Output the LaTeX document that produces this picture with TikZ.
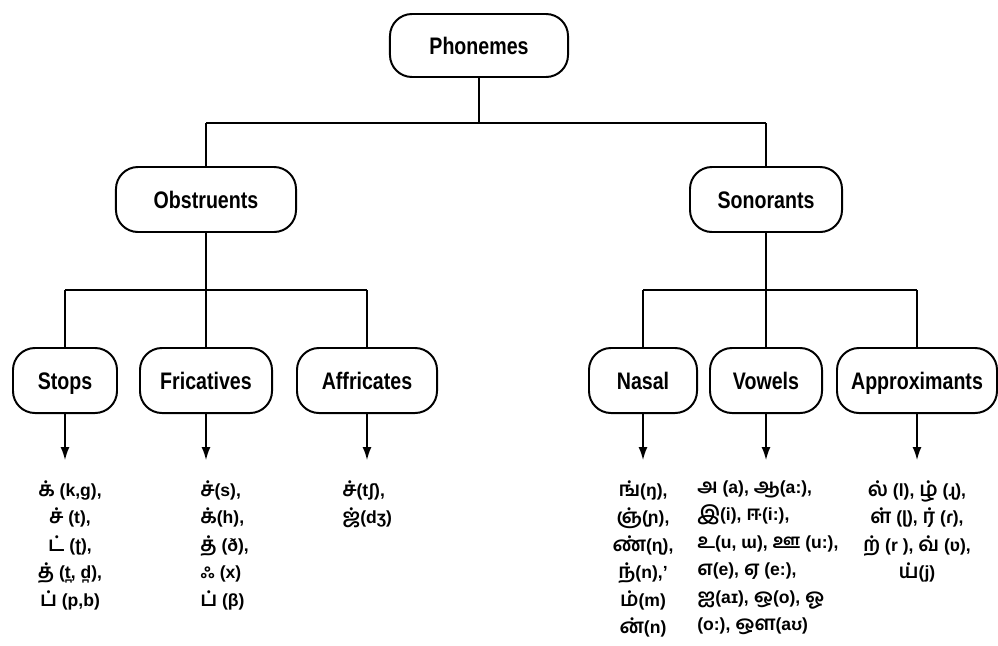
\documentclass[tikz,border=0pt]{standalone}
\usepackage{fontspec}
\usetikzlibrary{arrows.meta}
\setmainfont{Liberation Sans}
\newfontfamily\labelfont{Liberation Sans}[FakeStretch=0.82]
\newfontfamily\tamilfont[Script=Tamil, Scale=1.15]{Hind Madurai}
\newcommand{\ta}[1]{{\tamilfont #1}}
\tikzset{
  catbox/.style={draw, line width=1.4pt, rounded corners=0.55cm, minimum height=1.625cm, inner sep=0pt,
    text height=15.5pt, text depth=3pt,
    font=\labelfont\bfseries\fontsize{17}{20}\selectfont},
  branch/.style={line width=1pt},
  bar/.style={line width=2pt},
  pointer/.style={line width=1pt, -{Latex[length=0.32cm, width=0.22cm]}},
  soundlist/.style={inner xsep=0pt, inner ysep=0.5cm, font=\bfseries\fontsize{12.5}{19.6}\selectfont},
}
\begin{document}
\begin{tikzpicture}[x=0.025cm, y=-0.025cm]
        \useasboundingbox (0, 0) rectangle (998, 645);
        % Phonemes
        \node[catbox, minimum width=4.45cm, minimum height=1.575cm] (phon) at (479, 45.5) {Phonemes};
        \coordinate (bar1) at (0, 123);
        \node[catbox, minimum width=4.5cm] (obs) at (206, 199.5) {Obstruents};
        \node[catbox, minimum width=3.8cm] (son) at (766, 199.5) {Sonorants};
        \draw[branch] (phon.south) -- (phon.south |- bar1);
        \draw[bar] (obs.north |- bar1) -- (son.north |- bar1);
        \draw[branch] (obs.north |- bar1) -- (obs.north);
        \draw[branch] (son.north |- bar1) -- (son.north);

        % Obstruents
        \coordinate (bar2) at (0, 290);
        \node[catbox, minimum width=2.6cm] (stops) at (65, 380.5) {Stops};
        \node[catbox, minimum width=3.3cm] (fric) at (206, 380.5) {Fricatives};
        \node[catbox, minimum width=3.5cm] (affr) at (367, 380.5) {Affricates};
        \draw[branch] (obs.south) -- (fric.north);
        \draw[bar] (stops.north |- bar2) -- (affr.north |- bar2);
        \draw[branch] (stops.north |- bar2) -- (stops.north);
        \draw[branch] (affr.north |- bar2) -- (affr.north);

        % Sonorants
        \node[catbox, minimum width=2.7cm] (nasal) at (643, 380.5) {Nasal};
        \node[catbox, minimum width=2.8cm] (vow) at (766, 380.5) {Vowels};
        \node[catbox, minimum width=4.0cm] (appr) at (917, 380.5) {Approximants};
        \draw[branch] (son.south) -- (vow.north);
        \draw[bar] (nasal.north |- bar2) -- (appr.north |- bar2);
        \draw[branch] (nasal.north |- bar2) -- (nasal.north);
        \draw[branch] (appr.north |- bar2) -- (appr.north);

        % sound lists
        \node[soundlist, anchor=north, align=center] (stopsl) at (70, 460)
            {\ta{க்} (k,g),\\ \ta{ச்} (t),\\ \ta{ட்} (ʈ),\\ \ta{த்} (t̪, d̪),\\ \ta{ப்} (p,b)};
        \node[soundlist, anchor=north west, align=left] (fricl) at (200, 460)
            {\ta{ச்}(s),\\ \ta{க்}(h),\\ \ta{த்} (ð),\\ \ta{ஃ} (x)\\ \ta{ப்} (β)};
        \node[soundlist, anchor=north west, align=left] (affrl) at (342, 460)
            {\ta{ச்}(tʃ),\\ \ta{ஜ்}(dʒ)};
        \node[soundlist, anchor=north, align=center] (nasall) at (643, 460)
            {\ta{ங்}(ŋ),\\ \ta{ஞ்}(ɲ),\\ \ta{ண்}(ɳ),\\ \ta{ந்}(n),'\\ \ta{ம்}(m)\\ \ta{ன்}(n)};
        \node[soundlist, anchor=north west, align=left] (vowl) at (697, 460)
            {\ta{அ} (a), \ta{ஆ}(a:),\\ \ta{இ}(i), \ta{ஈ}(i:),\\ \ta{உ}(u, ɯ), \ta{ஊ} (u:),\\ \ta{எ}(e), \ta{ஏ} (e:),\\ \ta{ஐ}(aɪ), \ta{ஒ}(o), \ta{ஓ}\\ (o:), \ta{ஔ}(aʊ)};
        \node[soundlist, anchor=north, align=center] (apprl) at (917, 460)
            {\ta{ல்} (l), \ta{ழ்} (ɻ),\\ \ta{ள்} (ɭ), \ta{ர்} (ɾ),\\ \ta{ற்} (r ), \ta{வ்} (ʋ),\\ \ta{ய்}(j)};

        \draw[pointer] (stops.south) -- (stops.south |- stopsl.north);
        \draw[pointer] (fric.south) -- (fric.south |- fricl.north);
        \draw[pointer] (affr.south) -- (affr.south |- affrl.north);
        \draw[pointer] (nasal.south) -- (nasal.south |- nasall.north);
        \draw[pointer] (vow.south) -- (vow.south |- vowl.north);
        \draw[pointer] (appr.south) -- (appr.south |- apprl.north);
\end{tikzpicture}
\end{document}
